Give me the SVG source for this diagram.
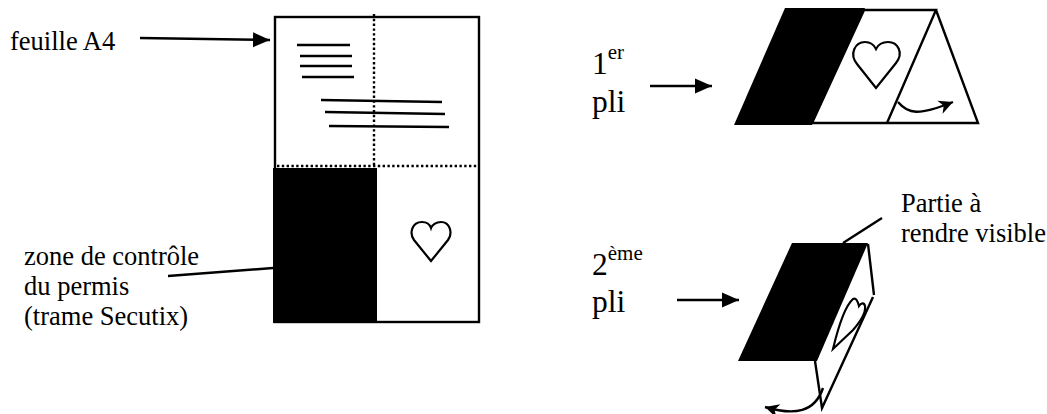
<svg xmlns="http://www.w3.org/2000/svg" width="1047" height="414" viewBox="0 0 1047 414">
<defs>
<marker id="ah" markerUnits="userSpaceOnUse" markerWidth="17" markerHeight="16" refX="17" refY="8" orient="auto"><path d="M0 0.5L17 8L0 15.5Z" fill="#000"/></marker>
<marker id="cv" markerUnits="userSpaceOnUse" markerWidth="16" markerHeight="16" refX="15" refY="8" orient="auto"><path d="M1 1L15 8L1 15L5 8Z" fill="#000"/></marker>
</defs>
<style>
text{font-family:"Liberation Serif","Times New Roman",serif;fill:#000}
.s{font-size:26.5px}
.b{font-size:31.5px}
.l{fill:none;stroke:#000;stroke-width:2.4}
.h{fill:#fff;stroke:#000;stroke-width:2.2}
.d{fill:none;stroke:#000;stroke-width:2.4;stroke-dasharray:2.4 2.4}
</style>
<rect width="1047" height="414" fill="#fff"/>
<g id="sheet">
<rect class="l" x="275" y="17" width="204" height="305"/>
<path class="d" d="M374 14V166M277 166H478"/>
<rect x="273" y="168" width="104" height="155" fill="#000"/>
<path class="l" d="M297 45H350M300 56H352M300 66H352M302 77H354M321 100L442 102M325 112L445 114M329 126L449 127"/>
<path class="h" d="M431 261L414 240C409 233 412 222 422 222C427 222 430 225 431 228C432 225 436 222 441 222C450 222 453 233 448 240Z"/>
</g>
<g id="fold1">
<path d="M785 8H865L812 125H734Z" fill="#000"/>
<path class="l" d="M864 10H936L887 123H812ZM936 10L978 123H887"/>
<path class="h" d="M876 88L857 64C849 54 855 42 865 42C870 42 874 45 876 49C878 45 882 42 888 42C898 42 904 53 896 63Z"/>
</g>
<g id="fold2">
<path d="M792 243H868L817 361H738Z" fill="#000"/>
<path class="l" d="M868 244L874 295M873 297L822 408L815 361"/>
<path class="h" d="M833 349C838 328 845 306 853 299C856 297 858 302 859 306C861 303 864 302 865 306C866 312 860 322 853 330Z"/>
</g>
<g id="connectors">
<path class="l" d="M140 38L270 40" marker-end="url(#ah)"/>
<path class="l" d="M168 276L273 268"/>
<path class="l" d="M650 86H712" marker-end="url(#ah)"/>
<path class="l" d="M677 300H739" marker-end="url(#ah)"/>
<path class="l" d="M898 102C908 114 918 116 953 102" marker-end="url(#cv)"/>
<path class="l" d="M823 388C815 412 795 416 765 407" marker-end="url(#cv)"/>
<path class="l" d="M843 243L882 218"/>
</g>
<g id="labels">
<text class="s" x="10" y="50">feuille A4</text>
<text class="s" x="24" y="265">zone de contrôle</text>
<text class="s" x="24" y="295">du permis</text>
<text class="s" x="24" y="325">(trame Secutix)</text>
<text class="b" x="592" y="74">1<tspan font-size="21" dy="-15">er</tspan></text>
<text class="b" x="592" y="112">pli</text>
<text class="b" x="592" y="275">2<tspan font-size="21" dy="-15">ème</tspan></text>
<text class="b" x="592" y="312">pli</text>
<text class="s" x="901" y="212">Partie à</text>
<text class="s" x="901" y="242">rendre visible</text>
</g>
</svg>
